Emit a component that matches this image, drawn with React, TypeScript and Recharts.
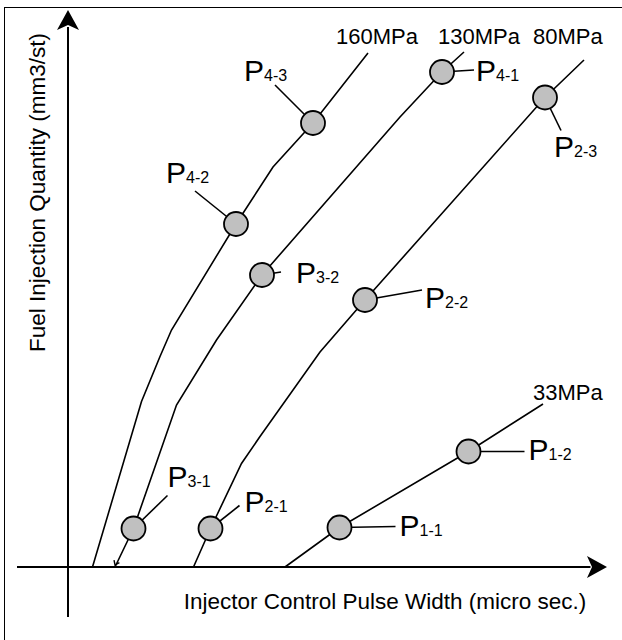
import React from "react";
import {
  ComposedChart,
  Line,
  Scatter,
  XAxis,
  YAxis,
  ReferenceLine,
  ReferenceDot,
} from "recharts";

// Pressure curves (x: pulse width, y: injection quantity; arbitrary units)
const curve160 = [
  { x: 4.9, y: 0 },
  { x: 14.7, y: 33.1 },
  { x: 18.4, y: 42.1 },
  { x: 20.7, y: 47.4 },
  { x: 33.6, y: 68.6 },
  { x: 41, y: 80 },
  { x: 49, y: 88.8 },
  { x: 60, y: 102.8 },
];
const curve130 = [
  { x: 9.4, y: 0 },
  { x: 13.1, y: 7.7 },
  { x: 21.7, y: 32.4 },
  { x: 29.7, y: 45.4 },
  { x: 38.8, y: 58.4 },
  { x: 66.4, y: 90 },
  { x: 74.8, y: 99 },
  { x: 79.2, y: 103 },
];
const curve80 = [
  { x: 25.1, y: 0 },
  { x: 28.5, y: 7.7 },
  { x: 34.7, y: 20.7 },
  { x: 38.4, y: 26.1 },
  { x: 50.4, y: 43 },
  { x: 59.4, y: 53.4 },
  { x: 95.4, y: 93.9 },
  { x: 103.2, y: 101.4 },
];
const curve33 = [
  { x: 43.4, y: 0 },
  { x: 54.3, y: 7.9 },
  { x: 80.1, y: 23.1 },
  { x: 95, y: 32.6 },
];

const pressureLabels = ["160MPa", "130MPa", "80MPa", "33MPa"];

// Measurement points
const points = [
  { id: "1-1", x: 54.3, y: 7.9 },
  { id: "1-2", x: 80.1, y: 23.1 },
  { id: "2-1", x: 28.5, y: 7.7 },
  { id: "2-2", x: 59.4, y: 53.4 },
  { id: "2-3", x: 95.4, y: 93.9 },
  { id: "3-1", x: 13.1, y: 7.7 },
  { id: "3-2", x: 38.8, y: 58.4 },
  { id: "4-1", x: 74.8, y: 99 },
  { id: "4-2", x: 33.6, y: 68.6 },
  { id: "4-3", x: 49, y: 88.8 },
];

const xTitle = "Injector Control Pulse Width (micro sec.)";
const yTitle = "Fuel Injection Quantity (mm3/st)";

// ---- layout / style (pixel offsets for annotations) ----
const FONT = "'Liberation Sans', Arial, Helvetica, sans-serif";
const W = 622;
const H = 640;
const MARGIN = { top: 10, right: 15, bottom: 23, left: 17 };
const X_DOMAIN: [number, number] = [-10.2, 107.8];
const Y_DOMAIN: [number, number] = [-10, 111.4];

// leader end (lx, ly) and text anchor (tx, ty: left, baseline) relative to point centre
const leaderLayout: Record<string, { lx: number; ly: number; tx: number; ty: number }> = {
  "1-1": { lx: 56, ly: -1, tx: 60, ty: 8 },
  "1-2": { lx: 56, ly: 0, tx: 60, ty: 8 },
  "2-1": { lx: 29, ly: -23, tx: 34, ty: -17 },
  "2-2": { lx: 57, ly: -10, tx: 60, ty: 8 },
  "2-3": { lx: 16, ly: 33, tx: 9, ty: 59 },
  "3-1": { lx: 34, ly: -33, tx: 34, ty: -42 },
  "3-2": { lx: 19, ly: -3, tx: 34, ty: 8 },
  "4-1": { lx: 32, ly: -2, tx: 34, ty: 9 },
  "4-2": { lx: -41, ly: -33, tx: -70, ty: -41 },
  "4-3": { lx: -38, ly: -38, tx: -69, ty: -42 },
};

const curveLabelOffset = [
  { dx: -32, dy: -9 },
  { dx: -26, dy: -8 },
  { dx: -51, dy: -16 },
  { dx: -10, dy: -4 },
];

const curves = [curve160, curve130, curve80, curve33];

const PointShape = (props: any) => {
  const { cx, cy, payload } = props;
  if (cx == null || cy == null) return null;
  const l = leaderLayout[payload.id];
  return (
    <g>
      <line x1={cx} y1={cy} x2={cx + l.lx} y2={cy + l.ly} stroke="#000" strokeWidth={1.6} />
      <circle cx={cx} cy={cy} r={12} fill="#c0c0c0" stroke="#000" strokeWidth={1.8} />
      <text x={cx + l.tx} y={cy + l.ty} fontFamily={FONT} fontSize={30} fill="#000">
        P
        <tspan fontSize={16}>{payload.id}</tspan>
      </text>
    </g>
  );
};

const arrowRight = (props: any) => {
  const { cx, cy } = props;
  return (
    <path
      d={`M${cx},${cy} L${cx - 20},${cy - 11} L${cx - 15},${cy} L${cx - 20},${cy + 11} Z`}
      fill="#000"
    />
  );
};
const arrowUp = (props: any) => {
  const { cx, cy } = props;
  return (
    <path
      d={`M${cx},${cy} L${cx - 11},${cy + 20} L${cx},${cy + 15} L${cx + 11},${cy + 20} Z`}
      fill="#000"
    />
  );
};

// small open arrowhead at the foot of the 130MPa curve, following the curve direction
const footArrow = (props: any) => {
  const { cx, cy } = props;
  const bx = 0.42;
  const by = -0.91;
  const len = 5;
  const a = Math.PI / 5;
  const r1x = bx * Math.cos(a) - by * Math.sin(a);
  const r1y = bx * Math.sin(a) + by * Math.cos(a);
  const r2x = bx * Math.cos(-a) - by * Math.sin(-a);
  const r2y = bx * Math.sin(-a) + by * Math.cos(-a);
  const tx = cx;
  const ty = cy - 2;
  return (
    <path
      d={`M${tx + r1x * len},${ty + r1y * len} L${tx},${ty} L${tx + r2x * len},${ty + r2y * len}`}
      stroke="#000"
      strokeWidth={1.4}
      fill="none"
    />
  );
};

const makeCurveLabel = (i: number) => (props: any) => {
  const { cx, cy } = props;
  const o = curveLabelOffset[i];
  return (
    <text x={cx + o.dx} y={cy + o.dy} fontFamily={FONT} fontSize={22} fill="#000">
      {pressureLabels[i]}
    </text>
  );
};

export default function App() {
  return (
    <div
      style={{
        position: "absolute",
        left: 0,
        top: 0,
        width: W,
        height: H,
        overflow: "hidden",
        background: "#fff",
      }}
    >
      <div
        style={{
          position: "absolute",
          left: 4,
          top: 7,
          width: 700,
          height: 700,
          border: "1.5px solid #000",
        }}
      />
      <div style={{ position: "absolute", left: 0, top: 0 }}>
        <ComposedChart width={W} height={H} margin={MARGIN}>
          <XAxis type="number" dataKey="x" domain={X_DOMAIN} hide allowDataOverflow />
          <YAxis type="number" dataKey="y" domain={Y_DOMAIN} hide allowDataOverflow />
          <ReferenceLine
            segment={[
              { x: X_DOMAIN[0], y: 0 },
              { x: 104.5, y: 0 },
            ]}
            stroke="#000"
            strokeWidth={2}
            ifOverflow="visible"
          />
          <ReferenceLine
            segment={[
              { x: 0, y: Y_DOMAIN[0] },
              { x: 0, y: 108 },
            ]}
            stroke="#000"
            strokeWidth={2}
            ifOverflow="visible"
          />
          <ReferenceDot x={X_DOMAIN[1]} y={0} shape={arrowRight} ifOverflow="visible" />
          <ReferenceDot x={0} y={Y_DOMAIN[1]} shape={arrowUp} ifOverflow="visible" />
          {curves.map((c, i) => (
            <Line
              key={pressureLabels[i]}
              data={c}
              dataKey="y"
              type="linear"
              stroke="#000"
              strokeWidth={1.6}
              dot={false}
              activeDot={false}
              isAnimationActive={false}
            />
          ))}
          <ReferenceDot x={curve130[0].x} y={curve130[0].y} shape={footArrow} ifOverflow="visible" />
          {curves.map((c, i) => (
            <ReferenceDot
              key={"lbl" + i}
              x={c[c.length - 1].x}
              y={c[c.length - 1].y}
              shape={makeCurveLabel(i)}
              ifOverflow="visible"
            />
          ))}
          <Scatter data={points} shape={PointShape} isAnimationActive={false} />
        </ComposedChart>
        <svg
          width={W}
          height={H}
          style={{ position: "absolute", left: 0, top: 0, pointerEvents: "none" }}
        >
          <text
            x={385}
            y={609}
            textAnchor="middle"
            fontFamily={FONT}
            fontSize={22.5}
            fill="#000"
          >
            {xTitle}
          </text>
          <text
            x={45}
            y={192.5}
            textAnchor="middle"
            transform="rotate(-90, 45, 192.5)"
            fontFamily={FONT}
            fontSize={22.5}
            fill="#000"
          >
            {yTitle}
          </text>
        </svg>
      </div>
    </div>
  );
}
